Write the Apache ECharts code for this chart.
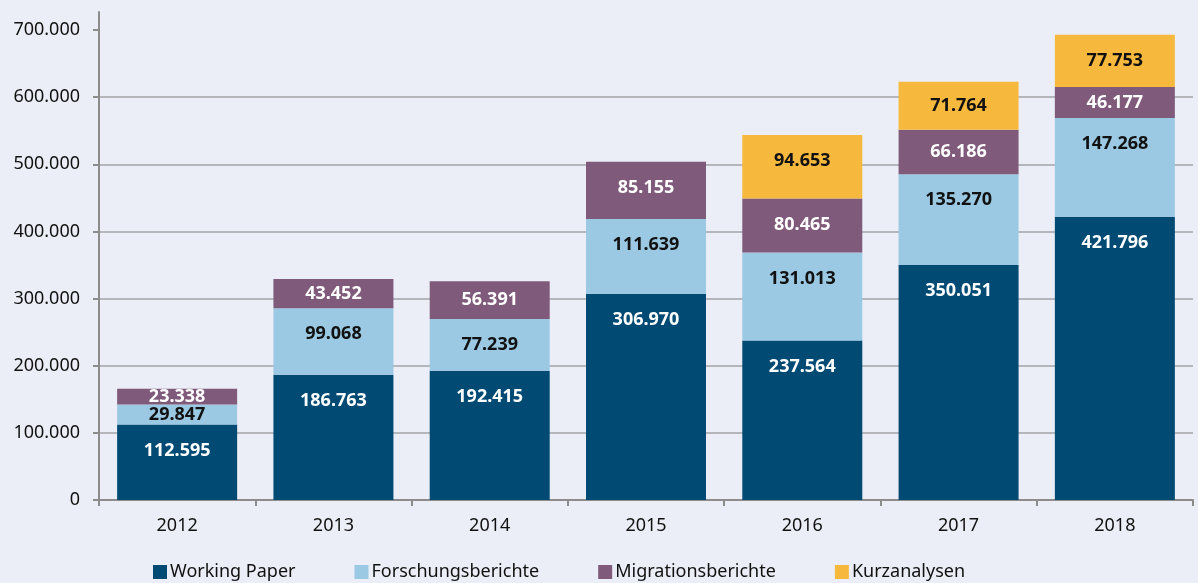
<!DOCTYPE html>
<html>
<head>
<meta charset="utf-8">
<script src="https://cdn.jsdelivr.net/npm/echarts@6/dist/echarts.min.js"></script>
<style>
  html, body { margin: 0; padding: 0; background: #ebeef6; }
  #chart { width: 1198px; height: 583px; }
</style>
</head>
<body>
<div id="chart"></div>
<script>
// ==============================
// Daten
// ==============================
const years = ['2012', '2013', '2014', '2015', '2016', '2017', '2018'];
const workingPaper = [112595, 186763, 192415, 306970, 237564, 350051, 421796];
const forschungsberichte = [29847, 99068, 77239, 111639, 131013, 135270, 147268];
const migrationsberichte = [23338, 43452, 56391, 85155, 80465, 66186, 46177];
const kurzanalysen = [null, null, null, null, 94653, 71764, 77753];
const yTicks = [0, 100000, 200000, 300000, 400000, 500000, 600000, 700000];

// Farben
const colors = ['#004a73', '#9bc8e2', '#7f5a7a', '#f6b93e'];
const labelColors = ['#ffffff', '#111111', '#ffffff', '#111111'];

// Tausenderpunkt
const fmt = v => String(v).replace(/\B(?=(\d{3})+(?!\d))/g, '.');

const seriesData = [
  { name: 'Working Paper', data: workingPaper },
  { name: 'Forschungsberichte', data: forschungsberichte },
  { name: 'Migrationsberichte', data: migrationsberichte },
  { name: 'Kurzanalysen', data: kurzanalysen }
];

const chart = echarts.init(document.getElementById('chart'));

function buildSeries(offsets) {
  return seriesData.map((s, i) => ({
    name: s.name,
    type: 'bar',
    stack: 'total',
    barWidth: 120,
    data: s.data.map((v, j) => ({
      value: v,
      label: { offset: [0, offsets ? offsets[i][j] : 0] }
    })),
    itemStyle: { color: colors[i] },
    label: {
      show: true,
      position: 'inside',
      color: labelColors[i],
      fontFamily: 'Noto Sans',
      fontWeight: 'bold',
      fontSize: 18,
      formatter: p => (p.value == null ? '' : fmt(p.value))
    }
  }));
}

chart.setOption({
  backgroundColor: '#ebeef6',
  animation: false,
  textStyle: { fontFamily: 'Noto Sans' },
  legend: {
    bottom: -3,
    left: 148,
    itemWidth: 14,
    itemHeight: 14,
    itemGap: 59,
    icon: 'rect',
    textStyle: { fontSize: 18, color: '#111', padding: [0, 0, 0, -2] },
    data: seriesData.map(s => s.name)
  },
  grid: { left: 99, right: 5, top: 12, bottom: 83 },
  xAxis: {
    type: 'category',
    data: years,
    axisLine: { lineStyle: { color: '#8c8c8c', width: 2 } },
    axisTick: { show: true, length: 6, lineStyle: { color: '#8c8c8c', width: 2 } },
    axisLabel: { color: '#111', fontSize: 18, margin: 17 }
  },
  yAxis: {
    type: 'value',
    min: 0,
    max: 727000,
    interval: 100000,
    axisLine: { show: true, lineStyle: { color: '#8c8c8c', width: 2 } },
    axisTick: { show: true, length: 6, customValues: yTicks, lineStyle: { color: '#8c8c8c', width: 2 } },
    axisLabel: { color: '#111', fontSize: 18, margin: 19, customValues: yTicks, formatter: v => fmt(v) },
    splitLine: { showMaxLine: false, lineStyle: { color: '#b4b6bb', width: 2 } }
  },
  series: buildSeries(null)
});

// Beschriftung: hohe Segmente oben (ca. 26px unter Oberkante), sonst mittig
const yPx = v => chart.convertToPixel({ yAxisIndex: 0 }, v);
const offsets = seriesData.map(() => []);
years.forEach((_, j) => {
  let base = 0;
  seriesData.forEach((s, i) => {
    const v = s.data[j] || 0;
    const h = yPx(base) - yPx(base + v);
    offsets[i][j] = h / 2 > 26 ? -(h / 2 - 26) : 0;
    base += v;
  });
});
chart.setOption({ series: buildSeries(offsets) });
</script>
</body>
</html>
